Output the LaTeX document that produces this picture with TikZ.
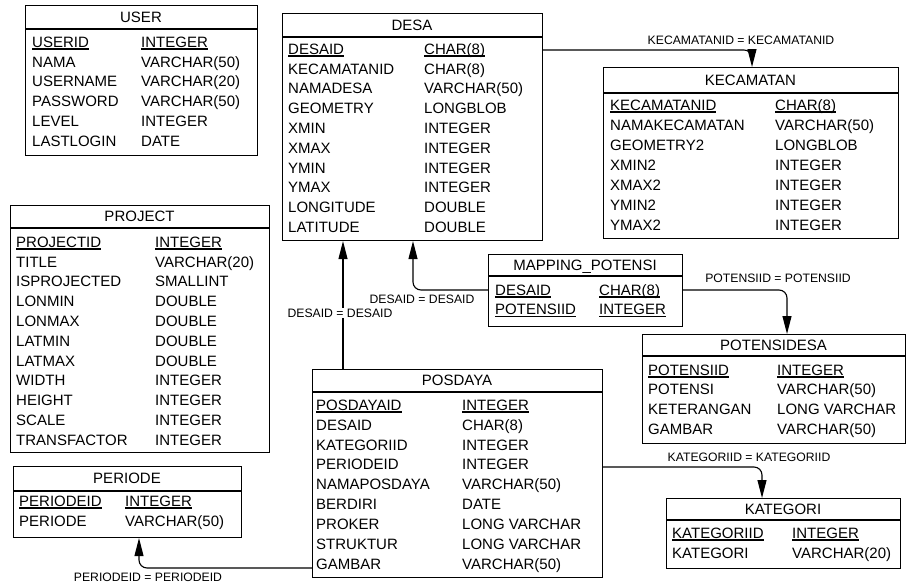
\documentclass[tikz,border=0pt]{standalone}
\usepackage{fontspec}
\setmainfont{Liberation Sans}
\usetikzlibrary{arrows.meta}
\newcommand\ulk[1]{\setbox0\hbox{#1}\rlap{\rule[-2.3pt]{\wd0}{1.4pt}}\box0}
\newcommand\tabrows[6]{%
  \foreach \a/\b [count=\i from 0] in {#6} {
    \node[fld] (#1-a\i) at (#2,{#4+\i*#5+5.2}) {\a};
    \node[fld] (#1-b\i) at (#3,{#4+\i*#5+5.2}) {\b};
  }}
\newcommand\tab[7]{%
  \node[tbl, minimum width={#4-#2}, minimum height={#5-#3}] (#1) at (#2,#3) {};
  \draw[line width=1.1pt] (#1.west |- 0,#6) -- (#1.east |- 0,#6);
  \node[fld, anchor=base] (#1-t) at ({(#2+#4)/2},{(#3+#6)/2+5.2}) {#7};
}
\tikzset{
  tbl/.style={draw=black, line width=1.1pt, inner sep=0pt, anchor=north west},
  fld/.style={anchor=base west, inner sep=0pt, font=\fontsize{15}{17}\selectfont},
  lbl/.style={font=\fontsize{12.2}{14}\selectfont, inner sep=1pt},
  rel/.style={line width=1.1pt, rounded corners=8pt, -{Triangle[length=18pt,width=9pt]}}
}
\begin{document}
\begin{tikzpicture}[x=1pt,y=-1pt]
\useasboundingbox (0,0) rectangle (907,584);
% USER
\tab{user}{25}{5}{257}{155}{29}{USER}
\tabrows{user}{32}{141}{42}{19.8}{\ulk{USERID}/\ulk{INTEGER},NAMA/VARCHAR(50),USERNAME/VARCHAR(20),PASSWORD/VARCHAR(50),LEVEL/INTEGER,LASTLOGIN/DATE}
% DESA
\tab{desa}{282}{13}{542}{240}{37}{DESA}
\tabrows{desa}{288}{424}{49}{19.8}{\ulk{DESAID}/\ulk{CHAR(8)},KECAMATANID/CHAR(8),NAMADESA/VARCHAR(50),GEOMETRY/LONGBLOB,XMIN/INTEGER,XMAX/INTEGER,YMIN/INTEGER,YMAX/INTEGER,LONGITUDE/DOUBLE,LATITUDE/DOUBLE}
% KECAMATAN
\tab{kec}{603}{67}{898}{238}{93}{KECAMATAN}
\tabrows{kec}{610}{775}{105}{20}{\ulk{KECAMATANID}/\ulk{CHAR(8)},NAMAKECAMATAN/VARCHAR(50),GEOMETRY2/LONGBLOB,XMIN2/INTEGER,XMAX2/INTEGER,YMIN2/INTEGER,YMAX2/INTEGER}
% PROJECT
\tab{proj}{10}{205}{269}{452}{228}{PROJECT}
\tabrows{proj}{16}{155}{242}{19.8}{\ulk{PROJECTID}/\ulk{INTEGER},TITLE/VARCHAR(20),ISPROJECTED/SMALLINT,LONMIN/DOUBLE,LONMAX/DOUBLE,LATMIN/DOUBLE,LATMAX/DOUBLE,WIDTH/INTEGER,HEIGHT/INTEGER,SCALE/INTEGER,TRANSFACTOR/INTEGER}
% PERIODE
\tab{per}{13}{466}{241}{537}{491}{PERIODE}
\tabrows{per}{19}{125}{501}{20}{\ulk{PERIODEID}/\ulk{INTEGER},PERIODE/VARCHAR(50)}
% POSDAYA
\tab{pos}{312}{369}{602}{577}{392}{POSDAYA}
\tabrows{pos}{316}{462}{405}{19.9}{\ulk{POSDAYAID}/\ulk{INTEGER},DESAID/CHAR(8),KATEGORIID/INTEGER,PERIODEID/INTEGER,NAMAPOSDAYA/VARCHAR(50),BERDIRI/DATE,PROKER/LONG VARCHAR,STRUKTUR/LONG VARCHAR,GAMBAR/VARCHAR(50)}
% MAPPING_POTENSI
\tab{map}{488}{254}{682}{326}{276}{MAPPING\_POTENSI}
\tabrows{map}{495}{599}{290}{19.5}{\ulk{DESAID}/\ulk{CHAR(8)},\ulk{POTENSIID}/\ulk{INTEGER}}
% POTENSIDESA
\tab{pot}{642}{334}{905}{443}{356}{POTENSIDESA}
\tabrows{pot}{648}{777}{370}{19.7}{\ulk{POTENSIID}/\ulk{INTEGER},POTENSI/VARCHAR(50),KETERANGAN/LONG VARCHAR,GAMBAR/VARCHAR(50)}
% KATEGORI
\tab{kat}{666}{498}{900}{568}{520}{KATEGORI}
\tabrows{kat}{672}{792}{533}{20}{\ulk{KATEGORIID}/\ulk{INTEGER},KATEGORI/VARCHAR(20)}
% connectors
\draw[rel] (desa.east |- 0,50) -| (kec.north -| 752,0);
\draw[rel] (pos.north -| 343,0) -- (desa.south -| 343,0);
\draw[rel] (map.west |- 0,290) -| (desa.south -| 413,0);
\draw[rel] (map.east |- 0,290) -| (pot.north -| 787,0);
\draw[rel] (pos.east |- 0,467) -| (kat.north -| 762,0);
\draw[rel] (pos.west |- 0,568) -| (per.south -| 139,0);
% labels
\node[lbl] (l1) at (741,40) {KECAMATANID = KECAMATANID};
\node[lbl, fill=white] (l2) at (340,313) {DESAID = DESAID};
\node[lbl] (l3) at (422,299) {DESAID = DESAID};
\node[lbl] (l4) at (778,278) {POTENSIID = POTENSIID};
\node[lbl] (l5) at (749,457) {KATEGORIID = KATEGORIID};
\node[lbl] (l6) at (148,577) {PERIODEID = PERIODEID};
\end{tikzpicture}
\end{document}
